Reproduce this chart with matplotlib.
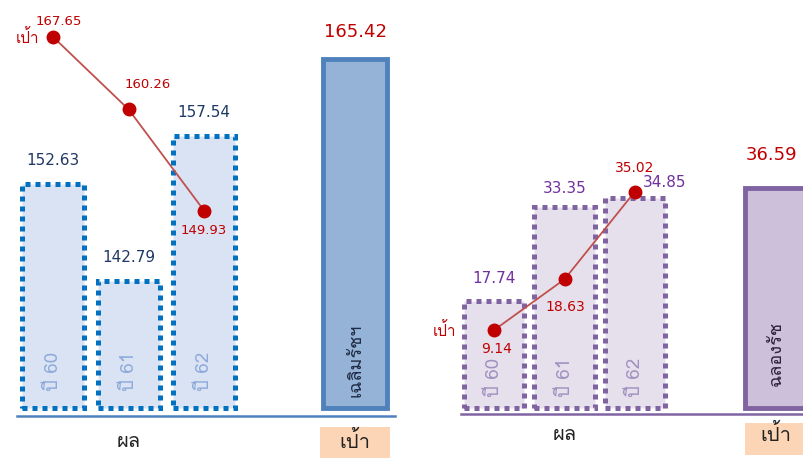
import matplotlib
matplotlib.use("Agg")
import matplotlib.pyplot as plt
import matplotlib.transforms as mtransforms
from matplotlib import font_manager
from matplotlib.ft2font import FT2Font
from matplotlib.patches import Rectangle

# find an installed font that has Thai glyphs
thai_font = None
for f in font_manager.fontManager.ttflist:
    try:
        if 0x0E1C in FT2Font(f.fname).get_charmap():
            thai_font = f.name
            break
    except Exception:
        pass
families = ([thai_font] if thai_font else []) + ["DejaVu Sans"]
plt.rcParams["font.family"] = families
NUM = ["DejaVu Sans"]

# data
years = ["ปี 60", "ปี 61", "ปี 62"]
left_result = [152.63, 142.79, 157.54]
left_target_line = [167.65, 160.26, 149.93]
left_goal = 165.42
left_goal_name = "เฉลิมรัชฯ"

right_result = [17.74, 33.35, 34.85]
right_target_line = [9.14, 18.63, 35.02]
right_goal = 36.59
right_goal_name = "ฉลองรัช"

result_label = "ผล"
target_label = "เป้า"

RED = "#C00000"
LINE_RED = "#C0504D"

W, H = 804, 458
fig = plt.figure(figsize=(W / 100, H / 100), dpi=100)


def px_axes(x0, x1, ytop, ybot):
    return fig.add_axes([x0 / W, (H - ybot) / H, (x1 - x0) / W, (ybot - ytop) / H])


def style_axes(ax, color):
    for s in ["top", "left", "right"]:
        ax.spines[s].set_visible(False)
    ax.spines["bottom"].set_color(color)
    ax.spines["bottom"].set_linewidth(1.8)
    ax.set_xticks([])
    ax.set_yticks([])
    ax.patch.set_alpha(0)


def bottom_labels(ax, goal_x, box_w, box_y0, box_y1, text_y, box_color):
    tr = mtransforms.blended_transform_factory(ax.transData, ax.transAxes)
    ax.text(1, text_y, result_label, transform=tr, ha="center", va="center",
            fontsize=14.5, color="#222222")
    ax.add_patch(Rectangle((goal_x - box_w / 2, box_y1), box_w, box_y0 - box_y1,
                           transform=tr, facecolor=box_color, edgecolor="none",
                           clip_on=False))
    ax.text(goal_x, text_y, target_label, transform=tr, ha="center", va="center",
            fontsize=14.5, color="#222222")


# ---------- left panel ----------
axl = px_axes(17, 395, 0, 416)
style_axes(axl, "#4F81BD")
axl.set_xlim(-0.48, 4.53)
axl.set_ylim(128.98, 171.43)
base = 129.8
xs = [0, 1, 2]
axl.bar(xs, [v - base for v in left_result], bottom=base, width=0.82,
        color="#DAE3F3", edgecolor="#0070C0", linewidth=3.6,
        linestyle=(0, (1, 1)))
axl.bar(4, left_goal - base, bottom=base, width=0.84, color="#95B3D7",
        edgecolor="#4F81BD", linewidth=3.5)
for x, v in zip(xs, left_result):
    axl.annotate(f"{v:.2f}", (x, v), xytext=(0, 17), textcoords="offset points",
                 ha="center", va="center", fontsize=11, color="#1F3864",
                 family=NUM)
for x, t in zip(xs, years):
    axl.annotate(t, (x, base), xytext=(0, 26), textcoords="offset points",
                 ha="center", va="center", rotation=90, fontsize=13.5,
                 color="#8EAADB")
axl.annotate(f"{left_goal:.2f}", (4, left_goal), xytext=(0, 19.5),
             textcoords="offset points", ha="center", va="center",
             fontsize=13, color=RED, family=NUM)
axl.annotate(left_goal_name, (4, base), xytext=(0, 34), textcoords="offset points",
             ha="center", va="center", rotation=90, fontsize=13,
             color="#1F2A44")

axl.plot(xs, left_target_line, color=LINE_RED, linewidth=1.3, marker="o",
         markersize=9, markerfacecolor=RED, markeredgecolor=RED, zorder=5)
left_line_offsets = [(4, 11.5), (14, 18), (0, -14.5)]
for x, v, off in zip(xs, left_target_line, left_line_offsets):
    axl.annotate(f"{v:.2f}", (x, v), xytext=off, textcoords="offset points",
                 ha="center", va="center", fontsize=9.5, color=RED, family=NUM)
axl.annotate(target_label, (xs[0], left_target_line[0]), xytext=(-10, 0),
             textcoords="offset points", ha="right", va="center",
             fontsize=11, color=RED)
bottom_labels(axl, 4, 0.94, -0.026, -0.10, -0.062, "#FBD5B5")

# ---------- right panel ----------
axr = px_axes(461, 804, 0, 414)
style_axes(axr, "#8064A2")
axr.set_xlim(-0.47, 4.40)
axr.set_ylim(-1.08, 67.9)
axr.bar(xs, right_result, width=0.86, color="#E6E0EC", edgecolor="#8064A2",
        linewidth=3.6, linestyle=(0, (1, 1)))
axr.bar(4, right_goal, width=0.88, color="#CCC0DA", edgecolor="#8064A2",
        linewidth=3.5)
right_bar_offsets = [(0, 16), (0, 13.7), (21.6, 11.5)]
for x, v, off in zip(xs, right_result, right_bar_offsets):
    axr.annotate(f"{v:.2f}", (x, v), xytext=off, textcoords="offset points",
                 ha="center", va="center", fontsize=11, color="#7030A0",
                 family=NUM)
for x, t in zip(xs, years):
    axr.annotate(t, (x, 0), xytext=(0, 21.6), textcoords="offset points",
                 ha="center", va="center", rotation=90, fontsize=13.5,
                 color="#A092C0")
axr.annotate(f"{right_goal:.2f}", (4, right_goal), xytext=(-3, 24),
             textcoords="offset points", ha="center", va="center",
             fontsize=13, color=RED, family=NUM)
axr.annotate(right_goal_name, (4, 0), xytext=(0, 39), textcoords="offset points",
             ha="center", va="center", rotation=90, fontsize=13,
             color="#2A2238")
bottom_labels(axr, 4, 0.88, -0.022, -0.099, -0.05, "#FBD5B5")

# target line drawn on its own scale
axr2 = axr.twinx()
axr2.set_ylim(-6.54, 70.8)
axr2.axis("off")
axr2.plot(xs, right_target_line, color=LINE_RED, linewidth=1.3, marker="o",
          markersize=9, markerfacecolor=RED, markeredgecolor=RED, zorder=5)
right_line_offsets = [(1.5, -13.7), (0.7, -20), (0, 17)]
for x, v, off in zip(xs, right_target_line, right_line_offsets):
    axr2.annotate(f"{v:.2f}", (x, v), xytext=off, textcoords="offset points",
                  ha="center", va="center", fontsize=10, color=RED, family=NUM)
axr2.annotate(target_label, (xs[0], right_target_line[0]), xytext=(-27, 0),
              textcoords="offset points", ha="right", va="center",
              fontsize=11, color=RED)

fig.savefig("out.png", dpi=100)
